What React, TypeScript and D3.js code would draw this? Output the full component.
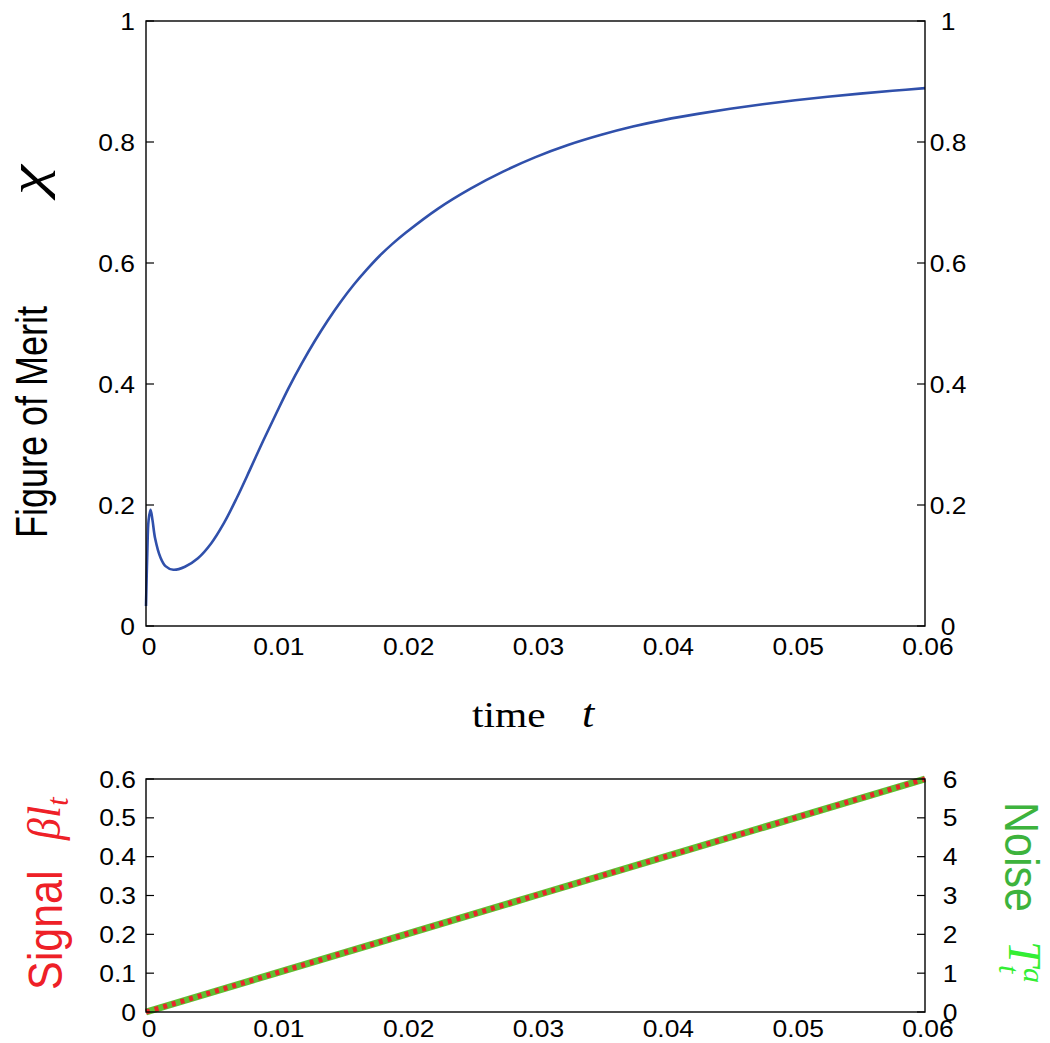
import React from "react";
import * as d3 from "d3";

const chiT = [0, 0.0001, 0.0002, 0.00035, 0.0005, 0.0007, 0.0011, 0.0015, 0.0021, 0.003, 0.004, 0.005, 0.006, 0.007, 0.008, 0.009, 0.01, 0.011, 0.012, 0.013, 0.014, 0.015, 0.016, 0.017, 0.018, 0.019, 0.02, 0.0225, 0.025, 0.0275, 0.03, 0.0325, 0.035, 0.0375, 0.04, 0.0425, 0.045, 0.0475, 0.05, 0.0525, 0.055, 0.0575, 0.06];
const chiV = [0.033, 0.12, 0.175, 0.192, 0.175, 0.145, 0.114, 0.099, 0.093, 0.098, 0.112, 0.136, 0.17, 0.212, 0.258, 0.305, 0.35, 0.394, 0.434, 0.471, 0.505, 0.536, 0.564, 0.589, 0.612, 0.632, 0.65, 0.69, 0.723, 0.751, 0.775, 0.795, 0.8115, 0.8255, 0.837, 0.8465, 0.855, 0.8625, 0.869, 0.8748, 0.88, 0.8847, 0.889];

const lineT = [0, 0.01, 0.02, 0.03, 0.04, 0.05, 0.06];
const signalV = [0, 0.1, 0.2, 0.3, 0.4, 0.5, 0.6];
const noiseV = [0, 1, 2, 3, 4, 5, 6];

const xTicks = [0, 0.01, 0.02, 0.03, 0.04, 0.05, 0.06];
const xTickLabels = ["0", "0.01", "0.02", "0.03", "0.04", "0.05", "0.06"];
const topYTicks = [0, 0.2, 0.4, 0.6, 0.8, 1];
const topYLabels = ["0", "0.2", "0.4", "0.6", "0.8", "1"];
const botLeftTicks = [0, 0.1, 0.2, 0.3, 0.4, 0.5, 0.6];
const botLeftLabels = ["0", "0.1", "0.2", "0.3", "0.4", "0.5", "0.6"];
const botRightTicks = [0, 1, 2, 3, 4, 5, 6];
const botRightLabels = ["0", "1", "2", "3", "4", "5", "6"];

const SANS = "'Liberation Sans', Arial, Helvetica, sans-serif";
const SERIF = "'Liberation Serif', 'Times New Roman', serif";
const SX = 1.1;
const TICK_FS = 24;

function Txt(props: any) {
  const { x, y, sx = SX, rot = 0, anchor = "start", size = TICK_FS, family = SANS, fill = "#000", italic = false, children } = props;
  return (
    <text
      transform={`translate(${x},${y}) scale(${sx},1) rotate(${rot})`}
      textAnchor={anchor}
      fontSize={size}
      fontFamily={family}
      fontStyle={italic ? "italic" : "normal"}
      fill={fill}
    >
      {children}
    </text>
  );
}

export default function App() {
  const L = 146, R = 925;
  const tTop = 21, tBot = 626;
  const bTop = 779, bBot = 1012;

  const x = d3.scaleLinear().domain([0, 0.06]).range([L, R]);
  const yTop = d3.scaleLinear().domain([0, 1]).range([tBot, tTop]);
  const yBL = d3.scaleLinear().domain([0, 0.6]).range([bBot, bTop]);
  const yBR = d3.scaleLinear().domain([0, 6]).range([bBot, bTop]);

  const chiLine = d3.line<number>().x((_, i) => x(chiT[i])).y((d) => yTop(d)).curve(d3.curveCatmullRom.alpha(0.5));
  const sigLine = d3.line<number>().x((_, i) => x(lineT[i])).y((d) => yBL(d));
  const noiseLine = d3.line<number>().x((_, i) => x(lineT[i])).y((d) => yBR(d));

  const tickLen = 8;
  const base = 8.5;

  return (
    <svg width={1050} height={1043} style={{ position: "absolute", left: 0, top: 0, background: "#fff" }}>
      <rect x={0} y={0} width={1050} height={1043} fill="#fff" />
      {/* top chart */}
      <g>
        {topYTicks.map((v, i) => (
          <g key={"ty" + i}>
            <line x1={L} x2={L + tickLen} y1={yTop(v)} y2={yTop(v)} stroke="#000" strokeWidth={1.2} />
            <line x1={R} x2={R - tickLen} y1={yTop(v)} y2={yTop(v)} stroke="#000" strokeWidth={1.2} />
            <Txt x={135} y={yTop(v) + base} anchor="end">{topYLabels[i]}</Txt>
            <Txt x={948} y={yTop(v) + base} anchor="middle">{topYLabels[i]}</Txt>
          </g>
        ))}
        {xTicks.map((v, i) => (
          <Txt key={"tx" + i} x={x(v) + 3} y={655} anchor="middle">{xTickLabels[i]}</Txt>
        ))}
        <path d={chiLine(chiV) || ""} fill="none" stroke="#3050ab" strokeWidth={2.6} />
        <rect x={L} y={tTop} width={R - L} height={tBot - tTop} fill="none" stroke="#000" strokeWidth={1.4} />
        <Txt x={472} y={727} size={36} sx={1.15} family={SERIF}>time</Txt>
        <Txt x={582} y={727} size={40} sx={1.1} family={SERIF} italic>t</Txt>
        <Txt x={47} y={538} rot={-90} size={36} sx={1.23}>Figure of Merit</Txt>
        <Txt x={44} y={195} rot={-90} size={68} sx={0.74} family={SERIF} italic>χ</Txt>
      </g>
      {/* bottom chart */}
      <g>
        {botLeftTicks.map((v, i) => (
          <g key={"bl" + i}>
            <line x1={L} x2={L + tickLen} y1={yBL(v)} y2={yBL(v)} stroke="#000" strokeWidth={1.2} />
            <Txt x={136} y={yBL(v) + base} anchor="end">{botLeftLabels[i]}</Txt>
          </g>
        ))}
        {botRightTicks.map((v, i) => (
          <g key={"br" + i}>
            <line x1={R} x2={R - tickLen} y1={yBR(v)} y2={yBR(v)} stroke="#000" strokeWidth={1.2} />
            <Txt x={950} y={yBR(v) + base} anchor="middle">{botRightLabels[i]}</Txt>
          </g>
        ))}
        {xTicks.map((v, i) => (
          <Txt key={"bx" + i} x={x(v) + 3} y={1037} anchor="middle">{xTickLabels[i]}</Txt>
        ))}
        <path d={noiseLine(noiseV) || ""} fill="none" stroke="#5fc032" strokeWidth={7} />
        <path d={sigLine(signalV) || ""} fill="none" stroke="#e8262a" strokeWidth={5} strokeDasharray="4,5" />
        <rect x={L} y={bTop} width={R - L} height={bBot - bTop} fill="none" stroke="#000" strokeWidth={1.4} />
        <Txt x={62} y={990} rot={-90} size={43} sx={1.1} fill="#ee2027">Signal</Txt>
        <Txt x={60} y={840} rot={-90} size={44} sx={1.05} family={SERIF} italic fill="#ee2027">
          βl<tspan fontSize={30} dy={8}>t</tspan>
        </Txt>
        <Txt x={1009} y={941} rot={90} size={1} sx={1.0} family={SERIF} italic fill="#33ee33">
          <tspan x={0} y={0} fontSize={46}>T</tspan>
          <tspan x={24} y={10} fontSize={30}>t</tspan>
          <tspan x={27} y={-15} fontSize={30}>a</tspan>
        </Txt>
        <Txt x={1005} y={802} rot={90} size={43} sx={1.13} fill="#3db33d">Noise</Txt>
      </g>
    </svg>
  );
}
